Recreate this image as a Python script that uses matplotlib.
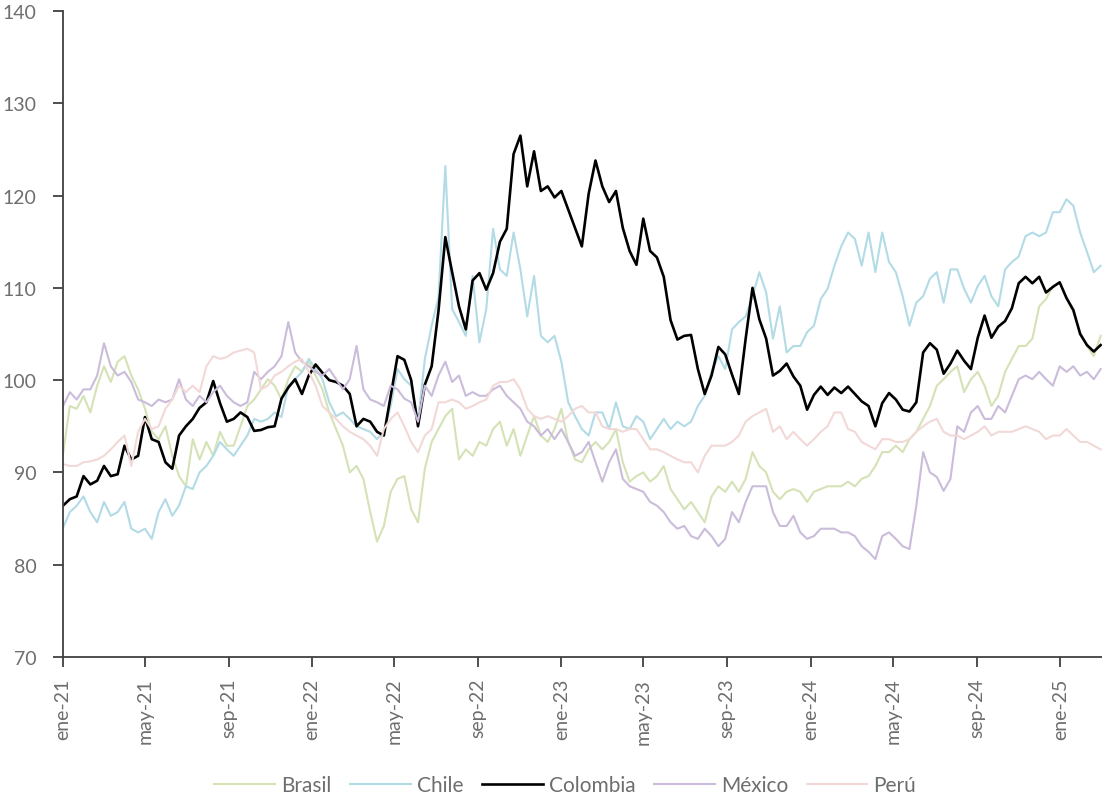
import matplotlib
matplotlib.use('Agg')
import matplotlib.pyplot as plt
import pandas as pd

plt.rcParams['font.family'] = ['Lato', 'DejaVu Sans']
plt.rcParams['font.size'] = 14

# serie cada 10 dias, enero 2021 - marzo 2025
fechas = pd.date_range('2021-01-01', periods=153, freq='10D')

brasil = [92.0, 97.2, 96.9, 98.3, 96.5, 99.4, 101.5, 99.8, 102.0, 102.6, 100.5, 99.0, 96.9, 94.4, 93.6, 95.0, 91.8, 89.6, 88.5, 93.6, 91.4, 93.3, 91.8, 94.4, 92.9,
          92.9, 95.0, 97.2, 97.9, 99.0, 100.1, 99.4, 97.9, 100.1, 101.5, 100.9, 102.0, 100.5, 99.0, 96.5, 94.7, 92.9, 90.0, 90.7, 89.3, 85.7, 82.5, 84.2, 87.9, 89.3, 89.6,
          86.0, 84.6, 90.4, 93.3, 94.7, 96.1, 96.9, 91.4, 92.5, 91.8, 93.3, 92.9, 94.7, 95.5, 92.9, 94.7, 91.8, 94.0, 96.1, 94.0, 93.3, 94.7, 96.9, 93.3, 91.4,
          91.1, 92.5, 93.3, 92.5, 93.3, 94.7, 91.1, 89.0, 89.6, 90.0, 89.0, 89.6, 90.7, 88.2, 87.1, 86.0, 86.8, 85.7, 84.6, 87.4, 88.5, 87.9, 89.0, 87.9, 89.3, 92.2,
          90.7, 90.0, 87.9, 87.1, 87.9, 88.2, 87.9, 86.8, 87.9, 88.2, 88.5, 88.5, 88.5, 89.0, 88.5, 89.3, 89.6, 90.7, 92.2, 92.2, 92.9, 92.2, 93.6, 94.4, 95.8, 97.2,
          99.4, 100.1, 100.9, 101.5, 98.7, 100.1, 100.9, 99.4, 97.2, 98.3, 100.9, 102.3, 103.7, 103.7, 104.5, 108.0, 108.8, 110.2, 110.6, 108.8, 107.4, 105.2, 103.7, 102.6, 104.8]

chile = [84.0, 85.7, 86.4, 87.4, 85.7, 84.6, 86.8, 85.3, 85.7, 86.8, 83.9, 83.5, 83.9, 82.8, 85.7, 87.1, 85.3, 86.4, 88.5, 88.2, 90.0, 90.7, 91.8, 93.3, 92.5,
         91.8, 92.9, 94.0, 95.8, 95.5, 95.8, 96.5, 96.0, 99.4, 100.1, 100.9, 102.3, 101.2, 100.1, 97.6, 96.1, 96.5, 95.8, 95.0, 94.7, 94.4, 93.6, 94.4, 97.2, 101.2, 100.1,
         99.4, 95.5, 102.3, 105.9, 109.0, 123.2, 107.7, 106.3, 104.8, 111.3, 104.1, 107.7, 116.4, 112.0, 111.3, 116.0, 112.0, 106.9, 111.3, 104.8, 104.1, 104.8, 102.0, 97.6, 96.1,
         94.7, 94.0, 96.5, 96.5, 94.7, 97.6, 95.0, 94.7, 96.1, 95.5, 93.6, 94.7, 95.8, 94.7, 95.5, 95.0, 95.5, 97.2, 98.3, 100.9, 102.6, 101.2, 105.5, 106.3, 106.9, 109.1,
         111.7, 109.5, 104.5, 108.0, 103.0, 103.7, 103.7, 105.2, 105.9, 108.8, 109.9, 112.4, 114.5, 116.0, 115.3, 112.4, 116.0, 111.7, 116.0, 112.8, 111.7, 109.1, 105.9, 108.4, 109.1, 111.0,
         111.7, 108.4, 112.0, 112.0, 109.9, 108.4, 110.2, 111.3, 109.1, 108.0, 112.0, 112.8, 113.4, 115.6, 116.0, 115.6, 116.0, 118.2, 118.2, 119.6, 118.9, 116.0, 113.9, 111.7, 112.4]

colombia = [86.4, 87.1, 87.4, 89.6, 88.7, 89.1, 90.7, 89.6, 89.8, 92.9, 91.4, 91.8, 96.0, 93.6, 93.3, 91.1, 90.4, 94.0, 95.0, 95.8, 97.0, 97.6, 99.9, 97.5, 95.5,
            95.8, 96.5, 96.0, 94.5, 94.6, 94.9, 95.0, 98.0, 99.2, 100.1, 98.5, 100.5, 101.7, 100.8, 100.0, 99.8, 99.4, 98.5, 95.0, 95.8, 95.5, 94.4, 94.0, 98.3, 102.6, 102.2,
            100.0, 95.0, 99.5, 101.5, 107.5, 115.5, 111.7, 108.0, 105.5, 110.8, 111.6, 109.8, 111.6, 115.0, 116.4, 124.5, 126.5, 121.0, 124.8, 120.5, 121.0, 119.8, 120.5, 118.5, 116.5,
            114.5, 120.2, 123.8, 121.0, 119.3, 120.5, 116.5, 114.0, 112.5, 117.5, 114.0, 113.3, 111.2, 106.5, 104.4, 104.8, 104.9, 101.2, 98.5, 100.5, 103.6, 102.8, 100.6, 98.5, 104.5, 110.0,
            106.6, 104.5, 100.5, 101.0, 101.8, 100.4, 99.4, 96.8, 98.4, 99.3, 98.4, 99.2, 98.6, 99.3, 98.5, 97.7, 97.2, 95.0, 97.5, 98.6, 97.9, 96.8, 96.6, 97.6, 103.0, 104.0,
            103.3, 100.7, 101.8, 103.2, 102.1, 101.2, 104.6, 107.0, 104.6, 105.8, 106.4, 107.8, 110.5, 111.2, 110.5, 111.2, 109.5, 110.1, 110.6, 108.9, 107.6, 105.0, 103.8, 103.1, 103.8]

mexico = [97.2, 98.7, 97.9, 99.0, 99.0, 100.5, 104.0, 101.5, 100.5, 100.9, 99.8, 97.9, 97.6, 97.2, 97.9, 97.6, 97.9, 100.1, 97.9, 97.2, 98.3, 97.6, 98.7, 99.4, 98.3,
          97.6, 97.2, 97.6, 100.9, 100.1, 100.9, 101.5, 102.6, 106.3, 103.0, 102.0, 101.5, 100.9, 100.5, 101.2, 100.1, 99.0, 100.1, 103.7, 99.0, 97.9, 97.6, 97.2, 99.4, 99.0, 98.0,
          97.6, 95.5, 99.4, 98.3, 100.5, 102.0, 99.8, 100.5, 98.3, 98.7, 98.3, 98.3, 99.0, 99.4, 98.3, 97.6, 96.9, 95.5, 95.0, 94.0, 94.7, 93.6, 94.7, 93.3, 91.8,
          92.2, 93.3, 91.1, 89.0, 91.1, 92.5, 89.3, 88.5, 88.2, 87.9, 86.8, 86.4, 85.7, 84.6, 83.9, 84.2, 83.1, 82.8, 83.9, 83.1, 82.0, 82.8, 85.7, 84.6, 86.8, 88.5,
          88.5, 88.5, 85.7, 84.2, 84.2, 85.3, 83.5, 82.8, 83.1, 83.9, 83.9, 83.9, 83.5, 83.5, 83.1, 82.0, 81.4, 80.6, 83.1, 83.5, 82.8, 82.0, 81.7, 86.4, 92.2, 90.0,
          89.5, 88.0, 89.3, 95.0, 94.4, 96.5, 97.2, 95.8, 95.8, 97.2, 96.5, 98.3, 100.1, 100.5, 100.1, 100.9, 100.1, 99.4, 101.5, 100.9, 101.5, 100.5, 100.9, 100.1, 101.2]

peru = [90.9, 90.7, 90.7, 91.1, 91.2, 91.4, 91.8, 92.5, 93.3, 94.0, 90.7, 94.4, 95.8, 94.7, 95.0, 96.9, 97.9, 99.4, 98.7, 99.4, 98.7, 101.5, 102.6, 102.3, 102.5,
        103.0, 103.2, 103.4, 103.0, 99.0, 99.4, 100.5, 100.9, 101.5, 102.0, 102.3, 100.9, 99.4, 97.2, 96.5, 95.8, 95.0, 94.4, 94.0, 93.6, 92.9, 91.8, 94.7, 95.8, 96.5, 95.0,
        93.3, 92.2, 94.0, 94.7, 97.6, 97.6, 97.9, 97.6, 96.9, 97.2, 97.6, 97.9, 99.4, 99.8, 99.8, 100.1, 99.0, 96.9, 96.1, 95.8, 96.1, 95.8, 95.5, 96.1, 96.9,
        97.2, 96.5, 96.5, 95.0, 94.7, 94.7, 94.4, 94.7, 94.7, 93.6, 92.5, 92.5, 92.2, 91.8, 91.4, 91.1, 91.1, 90.0, 91.8, 92.9, 92.9, 92.9, 93.3, 94.0, 95.5, 96.1,
        96.5, 96.9, 94.4, 95.0, 93.6, 94.4, 93.6, 92.9, 93.6, 94.4, 95.0, 96.5, 96.5, 94.7, 94.4, 93.3, 92.9, 92.5, 93.6, 93.6, 93.3, 93.3, 93.6, 94.4, 95.0, 95.5,
        95.8, 94.4, 94.0, 94.0, 93.6, 94.0, 94.4, 95.0, 94.0, 94.4, 94.4, 94.4, 94.7, 95.0, 94.7, 94.4, 93.6, 94.0, 94.0, 94.7, 94.0, 93.3, 93.3, 92.9, 92.5]

paises = ['Brasil', 'Chile', 'Colombia', 'México', 'Perú']
series = [brasil, chile, colombia, mexico, peru]
colores = ['#d4e2b6', '#b2dbe6', '#000000', '#cabcda', '#f2d9d7']
grosores = [1.5, 1.5, 1.9, 1.5, 1.5]

tick_fechas = pd.date_range('2021-01-01', '2025-01-01', freq='4MS')
tick_labels = ['ene-21', 'may-21', 'sep-21', 'ene-22', 'may-22', 'sep-22', 'ene-23',
               'may-23', 'sep-23', 'ene-24', 'may-24', 'sep-24', 'ene-25']

fig = plt.figure(figsize=(11.02, 8.03), dpi=100)
ax = fig.add_axes([0.0572, 0.1806, 0.9428, 0.8044])

for nombre, s, c, lw in zip(paises, series, colores, grosores):
    ax.plot(fechas, s, color=c, lw=lw, label=nombre)

ax.set_ylim(70, 140)
ax.set_yticks(range(70, 141, 10))
ax.set_xlim(pd.Timestamp('2021-01-01'), pd.Timestamp('2025-03-03'))
ax.set_xticks(tick_fechas)
ax.set_xticklabels(tick_labels, rotation=90)

for lado in ['top', 'right']:
    ax.spines[lado].set_visible(False)
for lado in ['left', 'bottom']:
    ax.spines[lado].set_color('#404040')
    ax.spines[lado].set_linewidth(1.3)
ax.tick_params(axis='both', colors='#404040', labelcolor='#6e6e6e', length=7, width=1.3)
ax.tick_params(axis='y', pad=12)
ax.tick_params(axis='x', pad=8)

fig.legend(loc='center', bbox_to_anchor=(0.513, 0.021), ncol=5, frameon=False, fontsize=15,
           handlelength=2.9, handletextpad=0.3, columnspacing=0.9, labelcolor='#6e6e6e')

fig.savefig('out.png', dpi=100)
